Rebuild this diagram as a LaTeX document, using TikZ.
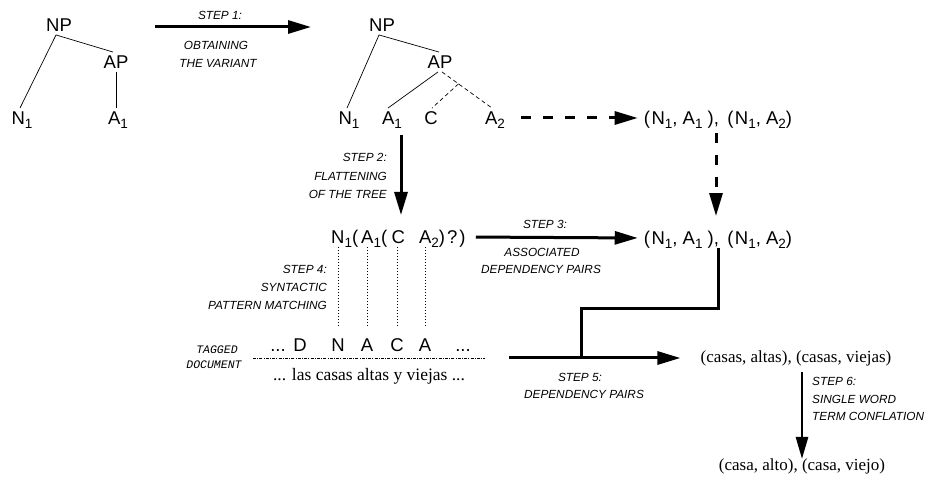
\documentclass[tikz,border=0pt]{standalone}
\usepackage{fontspec}
\setmainfont{Liberation Sans}
\newfontfamily\serifrm{Liberation Serif}
\newfontfamily\monofam{Liberation Mono}
\usetikzlibrary{arrows.meta,calc}
\newcommand\sbs[1]{\raisebox{-4pt}{\fontsize{13.5}{14}\selectfont #1}}
\begin{document}
\begin{tikzpicture}[x=1pt,y=-1pt,
 lbl/.style={font=\fontsize{11.8}{14}\selectfont\itshape, inner sep=0pt},
 sym/.style={font=\fontsize{18.5}{22}\selectfont, inner xsep=2pt, inner ysep=3pt, text height=13.5pt, text depth=0pt},
 rom/.style={font=\fontsize{17}{20}\selectfont\serifrm, inner sep=0pt},
 tagl/.style={font=\fontsize{11.5}{13}\selectfont\monofam\itshape, inner sep=0pt},
 treeline/.style={line width=0.7pt},
 treedash/.style={line width=0.7pt, dash pattern=on 4pt off 3pt},
 steparrow/.style={line width=3pt, -{Triangle[length=23pt,width=13pt]}},
 stepdash/.style={steparrow, dash pattern=on 10pt off 12pt},
 thinarrow/.style={line width=2.6pt, -{Triangle[length=22pt,width=12pt]}},
 matchline/.style={line width=0.8pt, dash pattern=on 1pt off 2pt},
 tagline/.style={line width=0.8pt, dash pattern=on 3pt off 1.2pt on 1pt off 1.2pt},
]
\useasboundingbox (0,0) rectangle (930,478);

% left tree
\node[sym] (lNP) at (59,25) {NP};
\node[sym] (lAP) at (116,62) {AP};
\node[sym] (lN) at (22,118) {N\sbs1};
\node[sym] (lA) at (118,118) {A\sbs1};
\draw[treeline] ([xshift=-3pt]lNP.south) -- ([xshift=-2pt]lN.north);
\draw[treeline] ([xshift=-3pt]lNP.south) -- ([xshift=-3pt]lAP.north);
\draw[treeline] (lAP.south) -- (lAP.south |- lA.north);

% step 1
\coordinate (s1a) at (155,27);
\coordinate (s1b) at (311,27);
\draw[steparrow] (s1a) -- (s1b);
\node[lbl] (s1l1) at (220,15) {STEP 1:};
\node[lbl] (s1l2) at (216,45) {OBTAINING};
\node[lbl] (s1l3) at (218,63) {THE VARIANT};

% right tree
\node[sym] (rNP) at (382,25) {NP};
\node[sym] (rAP) at (440,62) {AP};
\node[sym] (rN) at (349,118) {N\sbs1};
\node[sym] (rA1) at (392,118) {A\sbs1};
\node[sym] (rC) at (431,118) {C};
\node[sym] (rA2) at (495,118) {A\sbs2};
\draw[treeline] ([xshift=-3pt]rNP.south) -- ([xshift=-2pt]rN.north);
\draw[treeline] ([xshift=-3pt]rNP.south) -- ([xshift=-1pt]rAP.north);
\draw[treeline] ([xshift=-2pt]rAP.south) -- ([xshift=-4pt]rA1.north);
\coordinate (apx) at ($([xshift=2pt]rAP.south)!0.33!([xshift=-3pt]rA2.north)$);
\draw[treedash] ([xshift=2pt]rAP.south) -- ([xshift=-3pt]rA2.north);
\draw[treedash] (apx) -- ([xshift=1pt]rC.north);

% pairs
\node[sym] (p1) at (718,118) {(\hspace{1.5pt}N\sbs1,\ A\sbs1\ ),\ \,(\hspace{1.5pt}N\sbs1,\ A\sbs2)};
\node[sym] (p2) at (718,238) {(\hspace{1.5pt}N\sbs1,\ A\sbs1\ ),\ \,(\hspace{1.5pt}N\sbs1,\ A\sbs2)};
\draw[stepdash, shorten >=4pt] ([xshift=14pt]rA2.east) -- (p1.west);
\draw[stepdash, shorten <=5pt, shorten >=12pt] ([xshift=-2pt]p1.south) -- ([xshift=-2pt]p2.north);

% step 2
\coordinate (s2a) at (401,135);
\coordinate (s2b) at (401,215);
\draw[steparrow] (s2a) -- (s2b);
\node[lbl, anchor=east] (s2l1) at (387,157) {STEP 2:};
\node[lbl, anchor=east] (s2l2) at (387,176) {FLATTENING};
\node[lbl, anchor=east] (s2l3) at (387,194) {OF THE TREE};

% formula
\node[sym, anchor=west, inner xsep=0pt] (form) at (331,237)
 {N\sbs1(\hspace{3pt}A\sbs1(\hspace{4.5pt}C\hspace{14pt}A\sbs2)\hspace{2pt}?\hspace{2pt})};

% step 3
\draw[steparrow, shorten <=10pt, shorten >=4pt] (form.east) -- (p2.west);
\node[lbl] (s3l1) at (545,224) {STEP 3:};
\node[lbl] (s3l2) at (542,252) {ASSOCIATED};
\node[lbl] (s3l3) at (541,269) {DEPENDENCY PAIRS};

% step 4
\node[lbl, anchor=east] (s4l1) at (327,269) {STEP 4:};
\node[lbl, anchor=east] (s4l2) at (327,287) {SYNTACTIC};
\node[lbl, anchor=east] (s4l3) at (327,305) {PATTERN MATCHING};

% tagged document
\node[sym] (td1) at (278,345) {...};
\node[sym] (tD) at (300,345) {D};
\node[sym] (tN) at (338,345) {N};
\node[sym] (tA) at (367,345) {A};
\node[sym] (tC) at (397,345) {C};
\node[sym] (tA2) at (425,345) {A};
\node[sym] (td2) at (463,345) {...};
\foreach \t in {tN,tA,tC,tA2}
  \draw[matchline, shorten >=8pt] (\t.north |- form.south) -- (\t.north);
\coordinate (tl1) at (253,358);
\coordinate (tl2) at (485,358);
\draw[tagline] (tl1) -- (tl2);
\node[rom, font=\fontsize{17.5}{20}\selectfont\serifrm] (sp) at (369,376) {... las casas altas y viejas ...};
\node[tagl] (tg1) at (217,350) {TAGGED};
\node[tagl] (tg2) at (214,365) {DOCUMENT};

% step 5
\node[rom] (c1) at (796,358) {(casas, altas), (casas, viejas)};
\coordinate (s5a) at (509,358);
\draw[steparrow, shorten >=20pt] (s5a) -- (c1.west);
\coordinate (elb) at (581,309);
\draw[line width=3pt] (p2.south) |- (elb) -- (elb |- s5a);
\node[lbl] (s5l1) at (580,377) {STEP 5:};
\node[lbl] (s5l2) at (584,394) {DEPENDENCY PAIRS};

% step 6
\node[rom] (c2) at (802,466) {(casa, alto), (casa, viejo)};
\coordinate (s6a) at (802,372);
\coordinate (s6b) at (802,459);
\draw[thinarrow] (s6a) -- (s6b);
\node[lbl, anchor=west] (s6l1) at (812,381) {STEP 6:};
\node[lbl, anchor=west] (s6l2) at (812,399) {SINGLE WORD};
\node[lbl, anchor=west] (s6l3) at (812,416) {TERM CONFLATION};
\end{tikzpicture}
\end{document}
